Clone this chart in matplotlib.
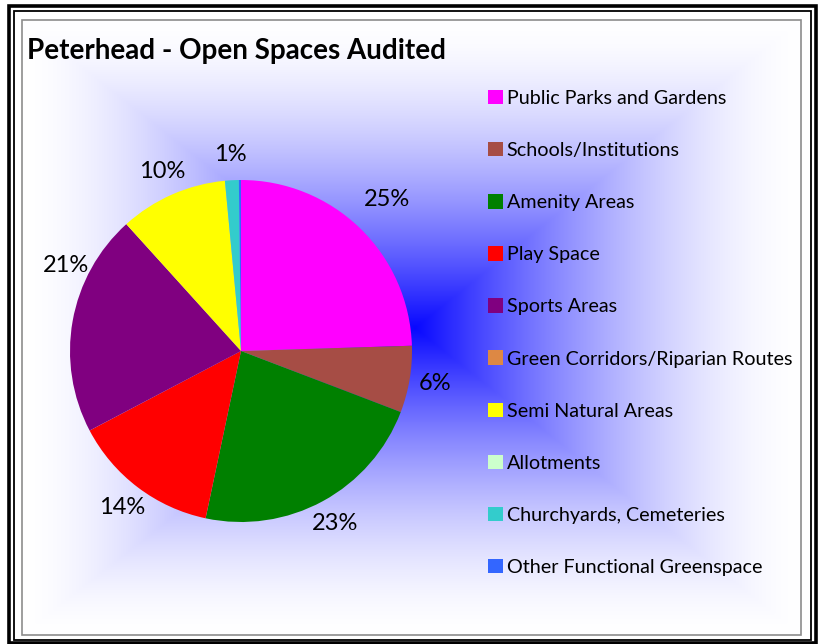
import numpy as np
import matplotlib
matplotlib.use("Agg")
import matplotlib.pyplot as plt
from matplotlib.patches import Rectangle

plt.rcParams['font.family'] = ['Lato', 'DejaVu Sans']

title = "Peterhead - Open Spaces Audited"
categories = ["Public Parks and Gardens", "Schools/Institutions", "Amenity Areas",
              "Play Space", "Sports Areas", "Green Corridors/Riparian Routes",
              "Semi Natural Areas", "Allotments", "Churchyards, Cemeteries",
              "Other Functional Greenspace"]
values = [24.51, 6.3, 22.51, 13.98, 21.0, 0.0, 10.2, 0.0, 1.3, 0.2]
colors = ["#FF00FF", "#A64D45", "#008000", "#FF0000", "#800080", "#DD8844",
          "#FFFF00", "#CCFFCC", "#33CCCC", "#3366FF"]

W, H = 821, 644
fig = plt.figure(figsize=(W / 100, H / 100), dpi=100)

def fx(px):
    return px / W

def fy(py):
    return 1 - py / H

# frame
bg = fig.add_axes([0, 0, 1, 1])
bg.set_xlim(0, W)
bg.set_ylim(H, 0)
bg.axis('off')
# gradient (rectangular from center)
x0, y0, x1, y1 = 22, 20, 801, 635
cx, cy = 415, 328
xs = np.linspace(x0, x1, 400)
ys = np.linspace(y0, y1, 320)
XX, YY = np.meshgrid(xs, ys)
t = np.maximum(np.where(XX < cx, (cx - XX) / (cx - x0), (XX - cx) / (x1 - cx)),
               np.where(YY < cy, (cy - YY) / (cy - y0), (YY - cy) / (y1 - cy)))
f = (1 - np.clip(t, 0, 1)) ** 1.6
img = np.ones(XX.shape + (3,))
img[..., 0] = 1 - f * 0.97
img[..., 1] = 1 - f * 0.97
img[..., 2] = 1.0
bg.imshow(img, extent=(x0, x1, y1, y0), interpolation='bilinear', aspect='auto', zorder=0)
bg.add_patch(Rectangle((x0, y0), x1 - x0, y1 - y0, fill=False, ec='#8c8c8c', lw=1.2, zorder=2))
bg.add_patch(Rectangle((13.5, 10.5), 797.5, 629.5, fill=False, ec='black', lw=1.3, zorder=2))
bg.add_patch(Rectangle((9, 6), 807, 637, fill=False, ec='black', lw=2.6, zorder=2))

fig.text(fx(27), fy(59), title, fontsize=20, fontweight='bold', va='baseline', ha='left')

# pie
pcx, pcy, r = 241, 351, 171
ax = fig.add_axes([fx(pcx - r), fy(pcy + r), (2 * r) / W, (2 * r) / H])
wedges, texts, autotexts = ax.pie(
    values, colors=colors, startangle=90, counterclock=False,
    autopct=lambda p: f"{p:.0f}%" if p >= 0.5 else "", pctdistance=1.15,
    wedgeprops=dict(linewidth=0), textprops=dict(fontsize=17))
ax.set_xlim(-1, 1)
ax.set_ylim(-1, 1)
ax.set_aspect('auto')
ax.axis('off')
# first label sits a little further out
x, y = autotexts[0].get_position()
autotexts[0].set_position((x * 1.07, y * 1.07))
# Sports label is placed higher (best-fit style)
a = np.deg2rad(154)
autotexts[4].set_position((1.14 * np.cos(a), 1.14 * np.sin(a)))

leg = fig.legend(wedges, categories, loc='upper left',
                 bbox_to_anchor=(fx(480), fy(82)), frameon=False,
                 fontsize=14.2, handlelength=0.75, handleheight=0.75,
                 handletextpad=0.2, labelspacing=1.775, borderaxespad=0)

fig.savefig("out.png", dpi=100)
